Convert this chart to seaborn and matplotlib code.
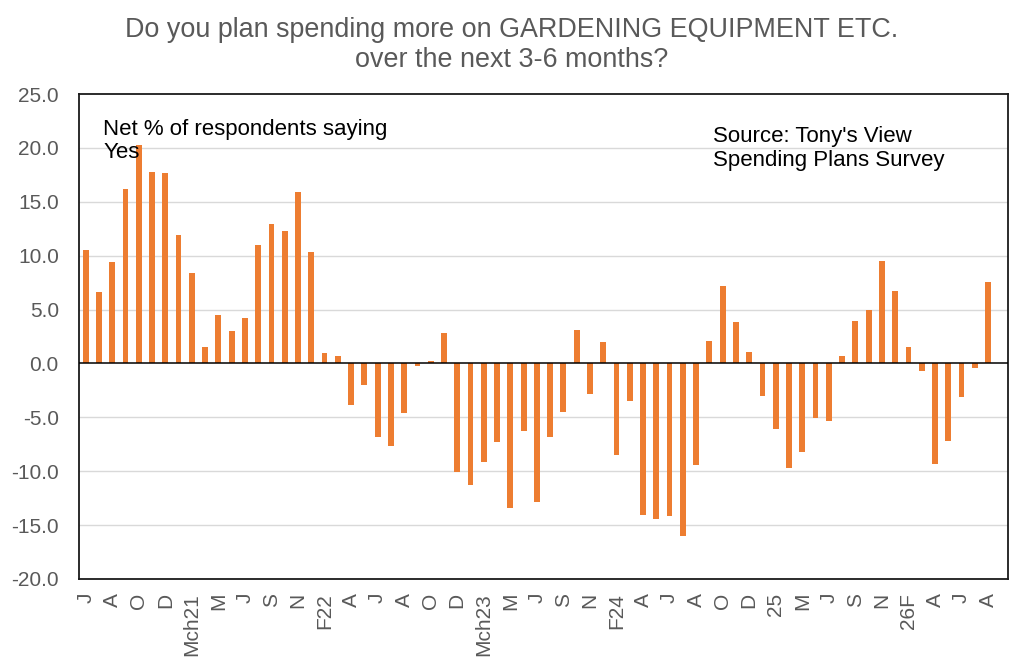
import numpy as np
import pandas as pd
import matplotlib
matplotlib.use("Agg")
import matplotlib.pyplot as plt
import seaborn as sns

# Net % of respondents saying Yes, monthly survey readings
net_yes = [
    10.5, 6.6, 9.4, 16.2, 20.3, 17.8, 17.7, 11.9, 8.4, 1.5,
    4.5, 3.0, 4.2, 11.0, 12.9, 12.3, 15.9, 10.3, 1.0, 0.7,
    -3.9, -2.0, -6.8, -7.7, -4.6, -0.2, 0.2, 2.8, -10.1, -11.3,
    -9.1, -7.3, -13.4, -6.3, -12.9, -6.8, -4.5, 3.1, -2.8, 2.0,
    -8.5, -3.5, -14.1, -14.4, -14.2, -16.0, -9.4, 2.1, 7.2, 3.8,
    1.1, -3.0, -6.1, -9.7, -8.2, -5.1, -5.3, 0.7, 3.9, 5.0,
    9.5, 6.7, 1.5, -0.7, -9.3, -7.2, -3.1, -0.4, 7.6,
]

# labels shown on every second bar
tick_labels = [
    "J", "A", "O", "D", "Mch21", "M", "J", "S", "N", "F22",
    "A", "J", "A", "O", "D", "Mch23", "M", "J", "S", "N",
    "F24", "A", "J", "A", "O", "D", "25", "M", "J", "S",
    "N", "26F", "A", "J", "A",
]

title = "Do you plan spending more on GARDENING EQUIPMENT ETC.\nover the next 3-6 months?"
y_ticks = [-20, -15, -10, -5, 0, 5, 10, 15, 20, 25]

sns.set_theme(style="white")
plt.rcParams["font.family"] = ["Liberation Sans", "DejaVu Sans"]

df = pd.DataFrame({"pos": np.arange(len(net_yes)), "net": net_yes})

fig = plt.figure(figsize=(10.24, 6.69), dpi=100)
ax = fig.add_axes([79 / 1024, 1 - 579 / 669, (1008 - 79) / 1024, (579 - 94) / 669])

sns.barplot(data=df, x="pos", y="net", color="#ED7D31", saturation=1,
            width=0.44, linewidth=0, ax=ax, zorder=3)

ax.set_xlim(-0.5, len(net_yes) + 0.5)
ax.set_ylim(-20, 25)
ax.set_yticks(y_ticks)
ax.set_yticklabels([f"{v:.1f}" for v in y_ticks])
ax.set_xticks(np.arange(0, len(net_yes), 2))
ax.set_xticklabels(tick_labels, rotation=90)
ax.set_xlabel("")
ax.set_ylabel("")

ax.tick_params(axis="both", length=0, labelsize=15, labelcolor="#595959")
ax.tick_params(axis="y", pad=14.5)
ax.tick_params(axis="x", pad=10)

for v in y_ticks[1:-1]:
    if v != 0:
        ax.axhline(v, color="#D9D9D9", lw=1, zorder=1)
ax.axhline(0, color="black", lw=1.1, zorder=4)

for s in ax.spines.values():
    s.set_visible(True)
    s.set_color("#1a1a1a")
    s.set_linewidth(1.3)

ax.text(0.026, 0.948, "Net % of respondents saying\nYes", transform=ax.transAxes,
        fontsize=16, color="black", va="top", ha="left", linespacing=1.1, zorder=5)
ax.text(0.682, 0.935, "Source: Tony's View\nSpending Plans Survey", transform=ax.transAxes,
        fontsize=16, color="black", va="top", ha="left", linespacing=1.2, zorder=5)

fig.text(0.5, 0.974, title, ha="center", va="top", fontsize=19.4,
         color="#595959", linespacing=1.2)

fig.savefig("out.png", dpi=100)
